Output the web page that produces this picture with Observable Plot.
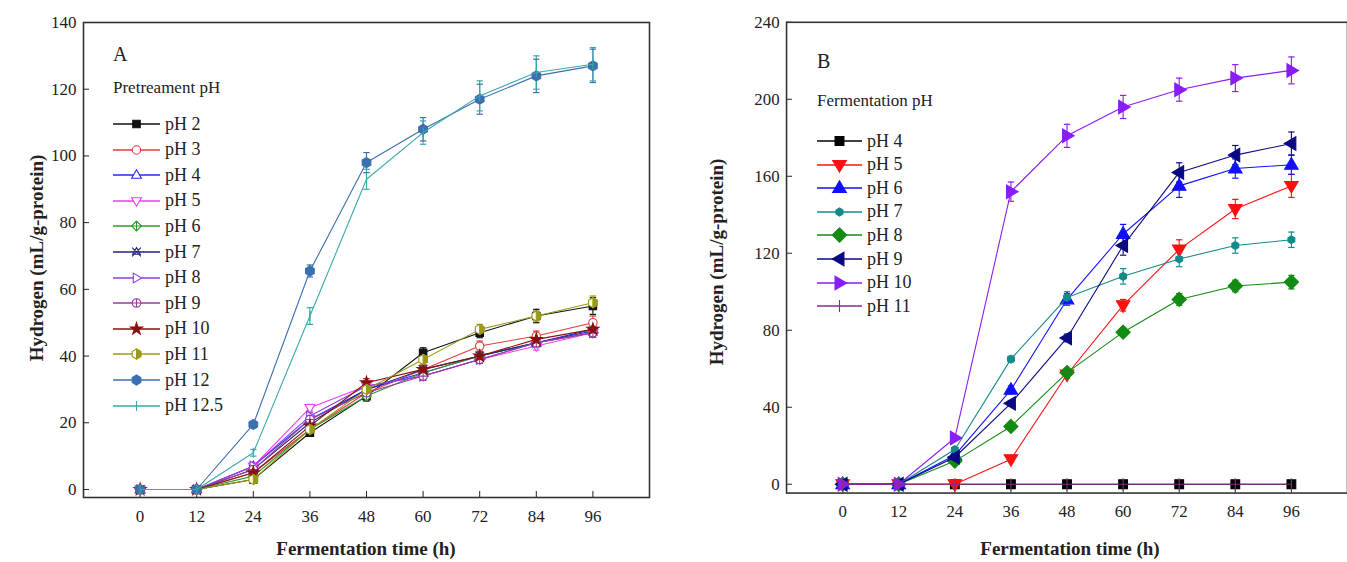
<!DOCTYPE html>
<html><head><meta charset="utf-8">
<script src="https://cdn.jsdelivr.net/npm/d3@7"></script>
<script src="https://cdn.jsdelivr.net/npm/@observablehq/plot@0.6"></script>
<style>
body{margin:0;background:#fff;overflow:hidden;}
#wrap{position:relative;width:1347px;height:562px;overflow:hidden;font-family:"Liberation Serif",serif;color:#222;}
.panel{position:absolute;top:0;}
.t{position:absolute;white-space:nowrap;line-height:1;}
.ytitle{position:absolute;font-weight:bold;font-size:19px;white-space:nowrap;transform:translate(-50%,-50%) rotate(-90deg);}
.xtitle{position:absolute;font-weight:bold;font-size:19px;white-space:nowrap;transform:translateX(-50%);}
.item{position:absolute;display:flex;align-items:center;font-size:18px;white-space:nowrap;}
</style></head><body><div id="wrap"></div>
<script>
// ---------- shared ----------
const times = [0, 12, 24, 36, 48, 60, 72, 84, 96];

// ---------- Panel A: pretreatment pH ----------
const seriesA = ["pH 2","pH 3","pH 4","pH 5","pH 6","pH 7","pH 8","pH 9","pH 10","pH 11","pH 12","pH 12.5"];
const a_pH2   = [0,0,3,17,28,41,47,52,55];
const a_pH3   = [0,0,5,18,29,36,43,46,50];
const a_pH4   = [0,0,7,21,30,35,40,44,48];
const a_pH5   = [0,0,7,24.5,31,34,39,43,47];
const a_pH6   = [0,0,4,18,28,35,40,44,47];
const a_pH7   = [0,0,6,20,30,36,40,44,47.5];
const a_pH8   = [0,0,7,22,31,34,39,44,47];
const a_pH9   = [0,0,6,21,29,34,39,44,47];
const a_pH10  = [0,0,5,19,32,36,40,45,48];
const a_pH11  = [0,0,3,18,30,39,48,52,56];
const a_pH12  = [0,0,19.5,65.5,98,108,117,124,127];
const a_pH125 = [0,0,11,52,93,107,118,125,127.5];
const errA_small = [0,0,0.8,1,1.2,1.2,1.2,1.2,1.4];
const errA_pH2   = [0,0,0.6,1,1.5,1.5,1.5,2,2.5];
const errA_pH3   = [0,0,0.6,1,1.5,1.5,1.5,1.5,2];
const errA_pH11  = [0,0,0.6,1,1.5,1.5,1.5,1.5,2];
const errA_pH12  = [0,0,0.8,1.8,3,3.5,4.5,5,5];
const errA_pH125 = [0,0,1,2.5,3,3.5,4.5,5,5];
const colorsA = ["#111111","#e23a3a","#2a2ae8","#ee3cee","#2e9a2e","#25257a","#8a3ee0","#9a3aa0","#8a1010","#9a9a18","#3a6fb0","#3aa8a8"];

// ---------- Panel B: fermentation pH ----------
const seriesB = ["pH 4","pH 5","pH 6","pH 7","pH 8","pH 9","pH 10","pH 11"];
const b_pH4  = [0,0,0,0,0,0,0,0,0];
const b_pH5  = [0,0,0,13,57,93,122,143,155];
const b_pH6  = [0,0,15,49,96,130,155,164,166];
const b_pH7  = [0,0,18,65,97,108,117,124,127];
const b_pH8  = [0,0,12,30,58,79,96,103,105];
const b_pH9  = [0,0,14,42,76,124,162,171,177];
const b_pH10 = [0,0,24,152,181,196,205,211,215];
const b_pH11 = [0,0,0,0,0,0,0,0,0];
const errB_none = [0,0,0,0,0,0,0,0,0];
const errB_pH5  = [0,0,0,1,2,3,5,5,6];
const errB_pH6  = [0,0,1,2,3,5,6,5,5];
const errB_pH7  = [0,0,1,1.5,3,4,4,4,4];
const errB_pH8  = [0,0,1,1,1.5,2,3,3,3.5];
const errB_pH9  = [0,0,1,1.5,2,5,5,5,6];
const errB_pH10 = [0,0,1,5,6,6,6,7,7];
const colorsB = ["#000000","#ff1010","#1010ff","#148a8a","#138a13","#0a0a80","#8a1cf5","#8a2a8a"];

const ticksA = [0,20,40,60,80,100,120,140];
const ticksB = [0,40,80,120,160,200,240];

// ---------- custom symbols ----------
const R = s => Math.sqrt(s / Math.PI);
const hexPts = r => d3.range(6).map(k => { const a = Math.PI/2 + k*Math.PI/3; return [r*Math.cos(a), -r*Math.sin(a)]; });
const sym = {
  hbar: {draw(c,s){const r=R(s);c.moveTo(-r,0);c.lineTo(r,0);}},
  vbar: {draw(c,s){const r=R(s);c.moveTo(0,-r);c.lineTo(0,r);}},
  circlePlus: {draw(c,s){const r=R(s);c.moveTo(r,0);c.arc(0,0,r,0,2*Math.PI);c.moveTo(-r,0);c.lineTo(r,0);c.moveTo(0,-r);c.lineTo(0,r);}},
  diamondPlus: {draw(c,s){const r=R(s)*1.15;c.moveTo(0,-r);c.lineTo(r,0);c.lineTo(0,r);c.lineTo(-r,0);c.closePath();c.moveTo(-r,0);c.lineTo(r,0);c.moveTo(0,-r);c.lineTo(0,r);}},
  triX: {draw(c,s){const r=R(s);c.moveTo(0,-r);c.lineTo(r*0.87,r*0.5);c.lineTo(-r*0.87,r*0.5);c.closePath();c.moveTo(-r,-r);c.lineTo(r,r);c.moveTo(r,-r);c.lineTo(-r,r);}},
  hex: {draw(c,s){const p=hexPts(R(s));c.moveTo(...p[0]);p.slice(1).forEach(q=>c.lineTo(...q));c.closePath();}},
  halfHex: {draw(c,s){const p=hexPts(R(s));c.moveTo(...p[0]);c.lineTo(...p[5]);c.lineTo(...p[4]);c.lineTo(...p[3]);c.closePath();}},
  tri: {draw(c,s){const r=R(s)*1.2;c.moveTo(0,-r);c.lineTo(r*0.95,r*0.62);c.lineTo(-r*0.95,r*0.62);c.closePath();}},
  square: {draw(c,s){const r=R(s)*0.85;c.rect(-r,-r,2*r,2*r);}},
  diamond: {draw(c,s){const r=R(s)*1.2;c.moveTo(0,-r);c.lineTo(r,0);c.lineTo(0,r);c.lineTo(-r,0);c.closePath();}},
  star: d3.symbolStar
};

// marker layers for each series
const markA = [
  [{symbol:sym.square, fill:"c", r:4.4}],
  [{symbol:"circle", fill:"white", r:4.2}],
  [{symbol:sym.tri, fill:"white", r:4.3}],
  [{symbol:sym.tri, fill:"white", r:4.3, rotate:180}],
  [{symbol:sym.diamondPlus, fill:"white", r:4.3}],
  [{symbol:sym.triX, fill:"none", r:4.4}],
  [{symbol:sym.tri, fill:"white", r:4.3, rotate:90}],
  [{symbol:sym.circlePlus, fill:"white", r:4.3}],
  [{symbol:sym.star, fill:"c", r:3.8}],
  [{symbol:sym.hex, fill:"white", r:5},{symbol:sym.halfHex, fill:"c", r:5}],
  [{symbol:sym.hex, fill:"c", r:5}],
  [{symbol:sym.vbar, fill:"none", r:5}]
];
const markB = [
  [{symbol:sym.square, fill:"c", r:5.2}],
  [{symbol:sym.tri, fill:"c", r:6, rotate:180}],
  [{symbol:sym.tri, fill:"c", r:6}],
  [{symbol:sym.hex, fill:"c", r:4}],
  [{symbol:sym.diamond, fill:"c", r:6}],
  [{symbol:sym.tri, fill:"c", r:6, rotate:-90}],
  [{symbol:sym.tri, fill:"c", r:6, rotate:90}],
  [{symbol:sym.vbar, fill:"none", r:6}]
];

function rows(series, values, errs) {
  return series.flatMap((s, i) => times.map((t, j) => ({s, t, v: values[i][j], e: errs[i][j]})));
}

const dataA = rows(seriesA,
  [a_pH2,a_pH3,a_pH4,a_pH5,a_pH6,a_pH7,a_pH8,a_pH9,a_pH10,a_pH11,a_pH12,a_pH125],
  [errA_pH2,errA_pH3,errA_small,errA_small,errA_small,errA_small,errA_small,errA_small,errA_small,errA_pH11,errA_pH12,errA_pH125]);
const dataB = rows(seriesB,
  [b_pH4,b_pH5,b_pH6,b_pH7,b_pH8,b_pH9,b_pH10,b_pH11],
  [errB_none,errB_pH5,errB_pH6,errB_pH7,errB_pH8,errB_pH9,errB_pH10,errB_none]);

function panel({data, series, colors, marks, yDomain, yTicks, width, marginLeft, marginRight, capR}) {
  const col = Object.fromEntries(series.map((s,i)=>[s,colors[i]]));
  const withErr = data.filter(d => d.e > 0);
  const seriesMarks = [];
  series.forEach((s, i) => {
    const sub = data.filter(d => d.s === s);
    seriesMarks.push(Plot.line(sub, {x:"t", y:"v", stroke: colors[i], strokeWidth: 1.1}));
    marks[i].forEach(m => {
      seriesMarks.push(Plot.dot(sub, {x:"t", y:"v", symbol:m.symbol, r:m.r, rotate:m.rotate || 0,
        fill: m.fill === "c" ? colors[i] : m.fill, stroke: colors[i], strokeWidth: 1.1}));
    });
  });
  return Plot.plot({
    width, height: 562,
    marginLeft, marginRight, marginTop: 22, marginBottom: 65,
    style: {fontFamily: "Liberation Serif, serif", fontSize: "17px", color: "#222", background: "transparent", overflow: "visible"},
    x: {domain: [-12, 108], ticks: times, tickSize: -6, tickPadding: 18, label: null},
    y: {domain: yDomain, ticks: yTicks, tickSize: -6, tickPadding: 13, label: null},
    marks: [
      Plot.ruleX(withErr, {x:"t", y1: d => d.v - d.e, y2: d => d.v + d.e, stroke: d => col[d.s], strokeWidth: 1.1}),
      Plot.dot(withErr, {x:"t", y: d => d.v + d.e, symbol: sym.hbar, r: capR, stroke: d => col[d.s], strokeWidth: 1.2}),
      Plot.dot(withErr, {x:"t", y: d => d.v - d.e, symbol: sym.hbar, r: capR, stroke: d => col[d.s], strokeWidth: 1.2}),
      ...seriesMarks,
      Plot.frame({stroke: "#333", strokeWidth: 1.6})
    ]
  });
}

const wrap = document.getElementById("wrap");

const pA = panel({data: dataA, series: seriesA, colors: colorsA, marks: markA, yDomain: [-2.4, 140], yTicks: ticksA,
  width: 670, marginLeft: 83, marginRight: 21, capR: 3.2});
const dA = document.createElement("div"); dA.className = "panel"; dA.style.left = "0px"; dA.appendChild(pA); wrap.appendChild(dA);

const pB = panel({data: dataB, series: seriesB, colors: colorsB, marks: markB, yDomain: [-4.6, 240], yTicks: ticksB,
  width: 673, marginLeft: 107, marginRight: 0, capR: 3.2});
const dB = document.createElement("div"); dB.className = "panel"; dB.style.left = "680px"; dB.appendChild(pB); wrap.appendChild(dB);

// ---------- titles ----------
function addText(cls, text, left, top, extra) {
  const el = document.createElement("div"); el.className = cls; el.textContent = text;
  el.style.left = left + "px"; el.style.top = top + "px";
  if (extra) Object.assign(el.style, extra);
  wrap.appendChild(el); return el;
}
addText("ytitle", "Hydrogen (mL/g-protein)", 37, 258);
addText("ytitle", "Hydrogen (mL/g-protein)", 717, 262);
addText("xtitle", "Fermentation time (h)", 366, 538);
addText("xtitle", "Fermentation time (h)", 1070, 538);
addText("t", "A", 113, 44, {fontSize: "20px"});
addText("t", "Pretreament pH", 113, 79, {fontSize: "17px"});
addText("t", "B", 817, 51, {fontSize: "20px"});
addText("t", "Fermentation pH", 817, 92, {fontSize: "17px"});

// ---------- legends ----------
function legend(series, colors, marks, left, top, step, swW) {
  series.forEach((s, i) => {
    const item = document.createElement("div"); item.className = "item";
    item.style.left = left + "px"; item.style.top = (top + i*step - 11) + "px";
    const svg = d3.create("svg").attr("width", swW).attr("height", 22).style("overflow","visible");
    svg.append("line").attr("x1",0).attr("x2",swW).attr("y1",11).attr("y2",11).attr("stroke",colors[i]).attr("stroke-width",1.3);
    marks[i].forEach(m => {
      const sy = typeof m.symbol === "string" ? d3.symbolCircle : m.symbol;
      svg.append("path").attr("d", d3.symbol(sy, m.r*m.r*Math.PI)())
        .attr("transform", `translate(${swW/2},11) rotate(${m.rotate||0})`)
        .attr("fill", m.fill === "c" ? colors[i] : m.fill).attr("stroke", colors[i]).attr("stroke-width",1.1);
    });
    item.appendChild(svg.node());
    const lab = document.createElement("span"); lab.textContent = s; lab.style.marginLeft = "5px";
    item.appendChild(lab);
    wrap.appendChild(item);
  });
}
legend(seriesA, colorsA, markA, 113, 124, 25.6, 47);
legend(seriesB, colorsB, markB, 817, 141, 23.6, 45);
</script>
</body></html>
